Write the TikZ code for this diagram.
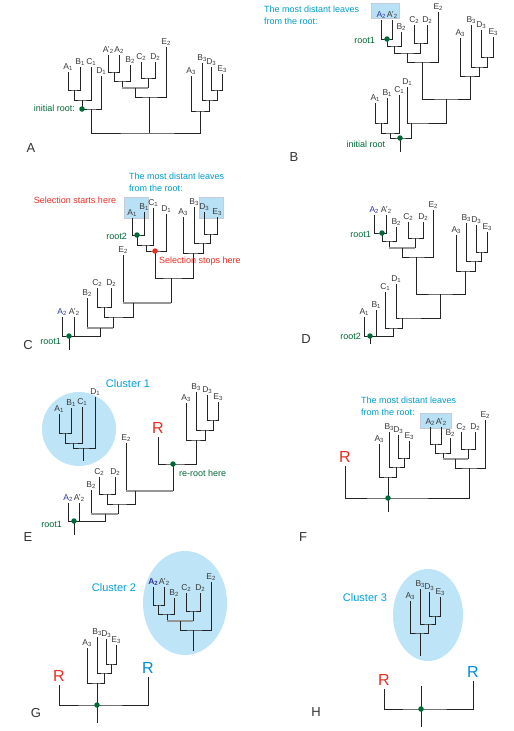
\documentclass[tikz,border=0pt]{standalone}
\usepackage{fontspec}
\setmainfont{Liberation Sans}
\usetikzlibrary{positioning}

\definecolor{treeblk}{RGB}{35,35,35}
\definecolor{treegray}{RGB}{150,150,150}
\definecolor{rootgreen}{RGB}{0,105,55}
\definecolor{lfblue}{RGB}{45,50,160}
\definecolor{hlfill}{RGB}{185,225,245}
\definecolor{hlline}{RGB}{195,205,215}
\definecolor{clfill}{RGB}{190,228,248}
\definecolor{noteteal}{RGB}{0,155,200}
\definecolor{clblue}{RGB}{0,160,225}
\definecolor{selred}{RGB}{235,45,35}
\definecolor{rblue}{RGB}{0,140,215}

\newcommand{\lsub}[2]{#1\raisebox{-0.15ex}{\fontsize{6}{6}\selectfont #2}}

\tikzset{
  leaf/.style={anchor=south, inner sep=1.5pt, text=black!78, font=\fontsize{8.5}{9}\selectfont},
  bluelf/.style={leaf, text=lfblue},
  branch/.style={draw=treeblk, line width=0.8pt},
  greyb/.style={draw=treegray, line width=1.2pt},
  rootdot/.style={circle, fill=rootgreen, inner sep=0pt, minimum size=5.5pt},
  stopdot/.style={rootdot, fill=selred},
  greentxt/.style={text=rootgreen, inner sep=0pt, font=\fontsize{9}{10}\selectfont},
  redtxt/.style={text=selred, inner sep=0pt, font=\fontsize{9}{10}\selectfont},
  note/.style={text=noteteal, anchor=west, align=left, inner sep=0pt, font=\fontsize{9}{12}\selectfont},
  hlbox/.style={fill=hlfill, draw=hlline, line width=0.8pt},
  cluster/.style={fill=clfill},
  cltxt/.style={text=clblue, inner sep=0pt, font=\fontsize{11}{12}\selectfont},
  bigR/.style={anchor=south, inner sep=3.5pt, font=\fontsize{16}{16}\selectfont},
  panel/.style={text=black!80, font=\fontsize{13}{13}\selectfont}
}

\begin{document}
\begin{tikzpicture}[x=1pt, y=-1pt]
\useasboundingbox (0,0) rectangle (514,731);

% ---------------- A: initial tree
\node[leaf] (aA1) at (68,72) {\lsub A1};
\node[leaf] (aB1) at (80,67) {\lsub B1};
\node[leaf] (aC1) at (91,67) {\lsub C1};
\node[leaf] (aD1) at (101,76) {\lsub D1};
\node[leaf] (aA2p) at (108,55) {\lsub{A'}2};
\node[leaf] (aA2) at (119,55) {\lsub A2};
\node[leaf] (aB2) at (130,65) {\lsub B2};
\node[leaf] (aC2) at (141,62) {\lsub C2};
\node[leaf] (aD2) at (155,62) {\lsub D2};
\node[leaf] (aE2) at (166,47) {\lsub E2};
\node[leaf] (aA3) at (191,76) {\lsub A3};
\node[leaf] (aB3) at (202,63) {\lsub B3};
\node[leaf] (aD3) at (211,67) {\lsub D3};
\node[leaf] (aE3) at (222,74) {\lsub E3};
\coordinate (a1) at (74,90);
\coordinate (a2) at (82,100);
\coordinate (a3) at (91,109);
\coordinate (a4) at (114,72);
\coordinate (a5) at (122,81);
\coordinate (a6) at (148,78);
\coordinate (a7) at (135,88);
\coordinate (a8) at (149,97);
\coordinate (a9) at (217,90);
\coordinate (a10) at (209,100);
\coordinate (a11) at (200,111);
\coordinate (a0) at (149,133);
\draw[branch] (aA1.south) |- (a1) -| (aB1.south);
\draw[branch] (a1) |- (a2) -| (aC1.south);
\draw[branch] (a2) |- (a3) -| (aD1.south);
\draw[branch] (aA2p.south) |- (a4) -| (aA2.south);
\draw[branch] (a4) |- (a5) -| (aB2.south);
\draw[branch] (aC2.south) |- (a6) -| (aD2.south);
\draw[branch] (a5) -- (a5 |- a7);
\draw[branch] (a6) -- (a6 |- a7);
\draw[greyb] (a5 |- a7) -- (a6 |- a7);
\draw[branch] (a7) |- (a8) -| (aE2.south);
\draw[branch] (aD3.south) |- (a9) -| (aE3.south);
\draw[branch] (aB3.south) |- (a10) -| (a9);
\draw[branch] (aA3.south) |- (a11) -| (a10);
\draw[branch] (a3) |- (a0) -| (a11);
\draw[branch] (a8) -- (a0);
\node[rootdot] (ainit) at (a2 |- a3) {};
\node[greentxt, anchor=east] (ainitl) at (75,108) {initial root:};
\node[panel] (pA) at (31,148) {A};

% ---------------- B: most distant leaves from the initial root
\draw[hlbox] (371,3) rectangle (399,18);
\node[note] (bnote) at (264,15) {The most distant leaves\\from the root:};
\node[bluelf] (bA2) at (381,20) {\lsub A2};
\node[leaf] (bA2p) at (392,20) {\lsub{A'}2};
\node[leaf] (bB2) at (401,32) {\lsub B2};
\node[leaf] (bC2) at (414,25) {\lsub C2};
\node[leaf] (bD2) at (427,25) {\lsub D2};
\node[leaf] (bE2) at (438,12) {\lsub E2};
\node[leaf] (bA3) at (460,38) {\lsub A3};
\node[leaf] (bB3) at (471,25) {\lsub B3};
\node[leaf] (bD3) at (481,30) {\lsub D3};
\node[leaf] (bE3) at (493,37) {\lsub E3};
\node[leaf] (bA1) at (375,103) {\lsub A1};
\node[leaf] (bB1) at (387,98) {\lsub B1};
\node[leaf] (bC1) at (399,95) {\lsub C1};
\node[leaf] (bD1) at (407,87) {\lsub D1};
\coordinate (b1) at (387,39);
\coordinate (b2) at (394,46);
\coordinate (b3) at (420,43);
\coordinate (b4) at (407,53);
\coordinate (b5) at (422,62);
\coordinate (b6) at (487,57);
\coordinate (b7) at (479,67);
\coordinate (b8) at (470,76);
\coordinate (b9) at (446,99);
\coordinate (b10) at (411,123);
\coordinate (b11) at (381,123);
\coordinate (b12) at (390,133);
\coordinate (b13) at (400,138);
\draw[branch] (bA2.south) |- (b1) -| (bA2p.south);
\draw[branch] (b1) |- (b2) -| (bB2.south);
\draw[branch] (bC2.south) |- (b3) -| (bD2.south);
\draw[branch] (b2) |- (b4) -| (b3);
\draw[branch] (b4) |- (b5) -| (bE2.south);
\draw[branch] (bD3.south) |- (b6) -| (bE3.south);
\draw[branch] (bB3.south) |- (b7) -| (b6);
\draw[branch] (bA3.south) |- (b8) -| (b7);
\draw[branch] (b5) |- (b9) -| (b8);
\draw[branch] (bD1.south) |- (b10) -| (b9);
\draw[branch] (bA1.south) |- (b11) -| (bB1.south);
\draw[branch] (b11) |- (b12) -| (bC1.south);
\draw[branch] (b12) |- (b13) -| (b10);
\draw[branch] (b13) -- ++(0,14);
\node[rootdot] (broot1) at (b1) {};
\node[rootdot] (binit) at (b13) {};
\node[greentxt, anchor=east] (broot1l) at (375,40) {root1};
\node[greentxt] (binitl) at (366,144) {initial root};
\node[panel] (pB) at (294,157) {B};

% ---------------- C: rerooted at root1, selection
\draw[hlbox] (124,197) rectangle (148,218);
\draw[hlbox] (199,197) rectangle (223,218);
\node[note] (cnote) at (129,182) {The most distant leaves\\from the root:};
\node[redtxt] (cstart) at (75,200) {Selection starts here};
\node[leaf] (cA1) at (132,218) {\lsub A1};
\node[leaf] (cB1) at (144,212) {\lsub B1};
\node[leaf] (cC1) at (153,208) {\lsub C1};
\node[leaf] (cD1) at (166,214) {\lsub D1};
\node[leaf] (cA3) at (183,217) {\lsub A3};
\node[leaf] (cB3) at (194,207) {\lsub B3};
\node[leaf] (cD3) at (204,212) {\lsub D3};
\node[leaf] (cE3) at (217,217) {\lsub E3};
\node[leaf] (cE2) at (123,255) {\lsub E2};
\node[leaf] (cC2) at (97,288) {\lsub C2};
\node[leaf] (cD2) at (111,288) {\lsub D2};
\node[leaf] (cB2) at (87,298) {\lsub B2};
\node[bluelf] (cA2) at (62,317) {\lsub A2};
\node[leaf] (cA2p) at (74,317) {\lsub{A'}2};
\coordinate (c1) at (137,235);
\coordinate (c2) at (146,245);
\coordinate (c3) at (155,251);
\coordinate (c4) at (210,234);
\coordinate (c5) at (203,243);
\coordinate (c6) at (193,253);
\coordinate (c7) at (171,278);
\coordinate (c8) at (133,303);
\coordinate (c9) at (104,307);
\coordinate (c10) at (113,317);
\coordinate (c11) at (100,328);
\coordinate (c12) at (69,336);
\draw[branch] (cA1.south) |- (c1) -| (cB1.south);
\draw[branch] (c1) |- (c2) -| (cC1.south);
\draw[branch] (c2) |- (c3) -| (cD1.south);
\draw[branch] (cD3.south) |- (c4) -| (cE3.south);
\draw[branch] (cB3.south) |- (c5) -| (c4);
\draw[branch] (cA3.south) |- (c6) -| (c5);
\draw[branch] (c3) |- (c7) -| (c6);
\draw[branch] (cE2.south) -- (cE2 |- c8);
\draw[branch] (c7) -- (c7 |- c8);
\draw[greyb] (cE2 |- c8) -- (c7 |- c8);
\draw[branch] (cC2.south) |- (c9) -| (cD2.south);
\draw[branch] (c9) |- (c10) -| (c8);
\draw[branch] (cB2.south) -- (cB2 |- c11);
\draw[branch] (c10) -- (c10 |- c11);
\draw[greyb] (cB2 |- c11) -- (c10 |- c11);
\draw[branch] (cA2.south) |- (c12) -| (cA2p.south);
\draw[branch] (c12) -| (c11);
\draw[branch] (c12) -- ++(0,14);
\node[rootdot] (croot2) at (c1) {};
\node[stopdot] (cstop) at (c3) {};
\node[rootdot] (croot1) at (c12) {};
\node[greentxt, anchor=east] (croot2l) at (127,236) {root2};
\node[greentxt, anchor=east] (croot1l) at (61,341) {root1};
\node[redtxt, anchor=west] (cstopl) at (159,261) {Selection stops here};
\node[panel] (pC) at (28,345) {C};

% ---------------- D: rerooted at root2
\node[bluelf] (dA2) at (374,215) {\lsub A2};
\node[leaf] (dA2p) at (386,215) {\lsub{A'}2};
\node[leaf] (dB2) at (396,227) {\lsub B2};
\node[leaf] (dC2) at (408,222) {\lsub C2};
\node[leaf] (dD2) at (423,222) {\lsub D2};
\node[leaf] (dE2) at (433,210) {\lsub E2};
\node[leaf] (dA3) at (456,235) {\lsub A3};
\node[leaf] (dB3) at (466,223) {\lsub B3};
\node[leaf] (dD3) at (476,225) {\lsub D3};
\node[leaf] (dE3) at (487,232) {\lsub E3};
\node[leaf] (dA1) at (364,317) {\lsub A1};
\node[leaf] (dB1) at (376,310) {\lsub B1};
\node[leaf] (dC1) at (385,292) {\lsub C1};
\node[leaf] (dD1) at (396,284) {\lsub D1};
\coordinate (d1) at (382,233);
\coordinate (d2) at (389,241);
\coordinate (d3) at (415,238);
\coordinate (d4) at (402,248);
\coordinate (d5) at (416,257);
\coordinate (d6) at (481,252);
\coordinate (d7) at (475,261);
\coordinate (d8) at (465,271);
\coordinate (d9) at (440,294);
\coordinate (d10) at (402,318);
\coordinate (d11) at (393,328);
\coordinate (d12) at (370,336);
\draw[branch] (dA2.south) |- (d1) -| (dA2p.south);
\draw[branch] (d1) |- (d2) -| (dB2.south);
\draw[branch] (dC2.south) |- (d3) -| (dD2.south);
\draw[branch] (d2) -- (d2 |- d4);
\draw[branch] (d3) -- (d3 |- d4);
\draw[greyb] (d2 |- d4) -- (d3 |- d4);
\draw[branch] (d4) |- (d5) -| (dE2.south);
\draw[branch] (dD3.south) |- (d6) -| (dE3.south);
\draw[branch] (dB3.south) |- (d7) -| (d6);
\draw[branch] (dA3.south) |- (d8) -| (d7);
\draw[branch] (d5) |- (d9) -| (d8);
\draw[branch] (dD1.south) |- (d10) -| (d9);
\draw[branch] (dC1.south) |- (d11) -| (d10);
\draw[branch] (dA1.south) |- (d12) -| (dB1.south);
\draw[branch] (d12) -| (d11);
\draw[branch] (d12) -- ++(0,8);
\node[rootdot] (droot1) at (d1) {};
\node[rootdot] (droot2) at (d12) {};
\node[greentxt, anchor=east] (droot1l) at (371,234) {root1};
\node[greentxt, anchor=east] (droot2l) at (361,336) {root2};
\node[panel] (pD) at (306,339) {D};

% ---------------- E: cluster 1 cut off, re-root
\fill[cluster] (79,429) ellipse [x radius=37pt, y radius=37pt];
\node[cltxt] (ecl) at (128,384) {Cluster 1};
\node[leaf] (eA1) at (59,414) {\lsub A1};
\node[leaf] (eB1) at (71,408) {\lsub B1};
\node[leaf] (eC1) at (82,407) {\lsub C1};
\node[leaf] (eD1) at (95,397) {\lsub D1};
\coordinate (e1) at (65,433);
\coordinate (e2) at (73,443);
\coordinate (e3) at (83,448);
\draw[branch] (eA1.south) |- (e1) -| (eB1.south);
\draw[branch] (e1) |- (e2) -| (eC1.south);
\draw[branch] (e2) |- (e3) -| (eD1.south);
\draw[branch] (e3) -- ++(0,13);
\node[bigR, text=selred] (eR) at (158,437) {R};
\node[leaf] (eA3) at (186,403) {\lsub A3};
\node[leaf] (eB3) at (196,392) {\lsub B3};
\node[leaf] (eD3) at (207,395) {\lsub D3};
\node[leaf] (eE3) at (218,402) {\lsub E3};
\node[leaf] (eE2) at (126,443) {\lsub E2};
\node[leaf] (eC2) at (99,477) {\lsub C2};
\node[leaf] (eD2) at (115,477) {\lsub D2};
\node[leaf] (eB2) at (91,490) {\lsub B2};
\node[bluelf] (eA2) at (68,503) {\lsub A2};
\node[leaf] (eA2p) at (79,503) {\lsub{A'}2};
\coordinate (e4) at (213,420);
\coordinate (e5) at (205,430);
\coordinate (e6) at (196,440);
\coordinate (e7) at (173,464);
\coordinate (e8) at (135,491);
\coordinate (e9) at (107,494);
\coordinate (e10) at (118,504);
\coordinate (e11) at (105,514);
\coordinate (e12) at (74,521);
\draw[branch] (eD3.south) |- (e4) -| (eE3.south);
\draw[branch] (eB3.south) |- (e5) -| (e4);
\draw[branch] (eA3.south) |- (e6) -| (e5);
\draw[branch] (eR.south) |- (e7) -| (e6);
\draw[branch] (e7) -- (e7 |- e8);
\draw[branch] (eE2.south) -- (eE2 |- e8);
\draw[greyb] (eE2 |- e8) -- (e7 |- e8);
\draw[branch] (eC2.south) |- (e9) -| (eD2.south);
\draw[branch] (e9) |- (e10) -| (e8);
\draw[branch] (eB2.south) -- (eB2 |- e11);
\draw[branch] (e10) -- (e10 |- e11);
\draw[greyb] (eB2 |- e11) -- (e10 |- e11);
\draw[branch] (eA2.south) |- (e12) -| (eA2p.south);
\draw[branch] (e12) -| (e11);
\draw[branch] (e12) -- ++(0,14);
\node[rootdot] (ereroot) at (e7) {};
\node[rootdot] (eroot1) at (e12) {};
\node[greentxt, anchor=west] (ererootl) at (179,473) {re-root here};
\node[greentxt, anchor=east] (eroot1l) at (62,524) {root1};
\node[panel] (pE) at (28,537) {E};

% ---------------- F: rerooted at R
\draw[hlbox] (420,413) rectangle (451,428);
\node[note] (fnote) at (361,406) {The most distant leaves\\from the root:};
\node[bigR, text=selred] (fR) at (345,466) {R};
\node[leaf] (fA3) at (379,444) {\lsub A3};
\node[leaf] (fB3) at (389,432) {\lsub B3};
\node[leaf] (fD3) at (398,435) {\lsub D3};
\node[leaf] (fE3) at (409,441) {\lsub E3};
\node[leaf] (fA2) at (430,427) {\lsub A2};
\node[leaf] (fA2p) at (441,427) {\lsub{A'}2};
\node[leaf] (fB2) at (450,438) {\lsub B2};
\node[leaf] (fC2) at (461,432) {\lsub C2};
\node[leaf] (fD2) at (475,432) {\lsub D2};
\node[leaf] (fE2) at (485,420) {\lsub E2};
\coordinate (f1) at (404,458);
\coordinate (f2) at (396,467);
\coordinate (f3) at (388,477);
\coordinate (f4) at (435,444);
\coordinate (f5) at (443,453);
\coordinate (f6) at (468,449);
\coordinate (f7) at (455,459);
\coordinate (f8) at (469,468);
\coordinate (f9) at (388,498);
\draw[branch] (fD3.south) |- (f1) -| (fE3.south);
\draw[branch] (fB3.south) |- (f2) -| (f1);
\draw[branch] (fA3.south) |- (f3) -| (f2);
\draw[branch] (fA2.south) |- (f4) -| (fA2p.south);
\draw[branch] (f4) |- (f5) -| (fB2.south);
\draw[branch] (fC2.south) |- (f6) -| (fD2.south);
\draw[branch] (f5) -- (f5 |- f7);
\draw[branch] (f6) -- (f6 |- f7);
\draw[greyb] (f5 |- f7) -- (f6 |- f7);
\draw[branch] (f7) |- (f8) -| (fE2.south);
\draw[branch] (fR.south) |- (f9) -| (f8);
\draw[branch] (f3) -- (f9);
\draw[branch] (f9) -- ++(0,14);
\node[rootdot] (froot) at (f9) {};
\node[panel] (pF) at (303,537) {F};

% ---------------- G: cluster 2 cut off
\fill[cluster] (185,603) ellipse [x radius=42pt, y radius=52pt];
\node[cltxt] (gcl) at (114,588) {Cluster 2};
\node[bluelf] (gA2) at (153,587) {\textbf{\lsub A2}};
\node[leaf] (gA2p) at (164,587) {\lsub{A'}2};
\node[leaf] (gB2) at (174,598) {\lsub B2};
\node[leaf] (gC2) at (186,593) {\lsub C2};
\node[leaf] (gD2) at (200,593) {\lsub D2};
\node[leaf] (gE2) at (211,582) {\lsub E2};
\coordinate (g1) at (158,605);
\coordinate (g2) at (167,614);
\coordinate (g3) at (193,611);
\coordinate (g4) at (180,621);
\coordinate (g5) at (193,630);
\draw[branch] (gA2.south) |- (g1) -| (gA2p.south);
\draw[branch] (g1) |- (g2) -| (gB2.south);
\draw[branch] (gC2.south) |- (g3) -| (gD2.south);
\draw[branch] (g2) -- (g2 |- g4);
\draw[branch] (g3) -- (g3 |- g4);
\draw[greyb] (g2 |- g4) -- (g3 |- g4);
\draw[branch] (g4) |- (g5) -| (gE2.south);
\draw[branch] (g5) -- ++(0,21);
\node[bigR, text=selred] (gR) at (59,685) {R};
\node[bigR, text=rblue] (gRb) at (148,677) {R};
\node[leaf] (gA3) at (87,648) {\lsub A3};
\node[leaf] (gB3) at (97,637) {\lsub B3};
\node[leaf] (gD3) at (106,639) {\lsub D3};
\node[leaf] (gE3) at (116,645) {\lsub E3};
\coordinate (g6) at (111,664);
\coordinate (g7) at (104,673);
\coordinate (g8) at (97,683);
\coordinate (g9) at (97,705);
\draw[branch] (gD3.south) |- (g6) -| (gE3.south);
\draw[branch] (gB3.south) |- (g7) -| (g6);
\draw[branch] (gA3.south) |- (g8) -| (g7);
\draw[branch] (g8) -- (g9);
\draw[branch] (gR.south) |- (g9) -| (gRb.south);
\draw[branch] (g9) -- ++(0,18);
\node[rootdot] (groot) at (g9) {};
\node[panel] (pG) at (36,713) {G};

% ---------------- H: cluster 3 cut off
\fill[cluster] (428,615) ellipse [x radius=35pt, y radius=46pt];
\node[cltxt] (hcl) at (365,598) {Cluster 3};
\node[leaf] (hA3) at (410,601) {\lsub A3};
\node[leaf] (hB3) at (420,589) {\lsub B3};
\node[leaf] (hD3) at (429,592) {\lsub D3};
\node[leaf] (hE3) at (440,597) {\lsub E3};
\coordinate (h1) at (435,616);
\coordinate (h2) at (428,624);
\coordinate (h3) at (420,633);
\draw[branch] (hD3.south) |- (h1) -| (hE3.south);
\draw[branch] (hB3.south) |- (h2) -| (h1);
\draw[branch] (hA3.south) |- (h3) -| (h2);
\draw[branch] (h3) -- ++(0,23);
\node[bigR, text=selred] (hR) at (384,689) {R};
\node[bigR, text=rblue] (hRb) at (473,681) {R};
\coordinate (h4) at (421,709);
\coordinate (htop) at (421,686);
\coordinate (hbot) at (421,727);
\draw[branch] (hR.south) |- (h4) -| (hRb.south);
\draw[branch] (htop) -- (hbot);
\node[rootdot] (hroot) at (h4) {};
\node[panel] (pH) at (316,712) {H};
\end{tikzpicture}
\end{document}
